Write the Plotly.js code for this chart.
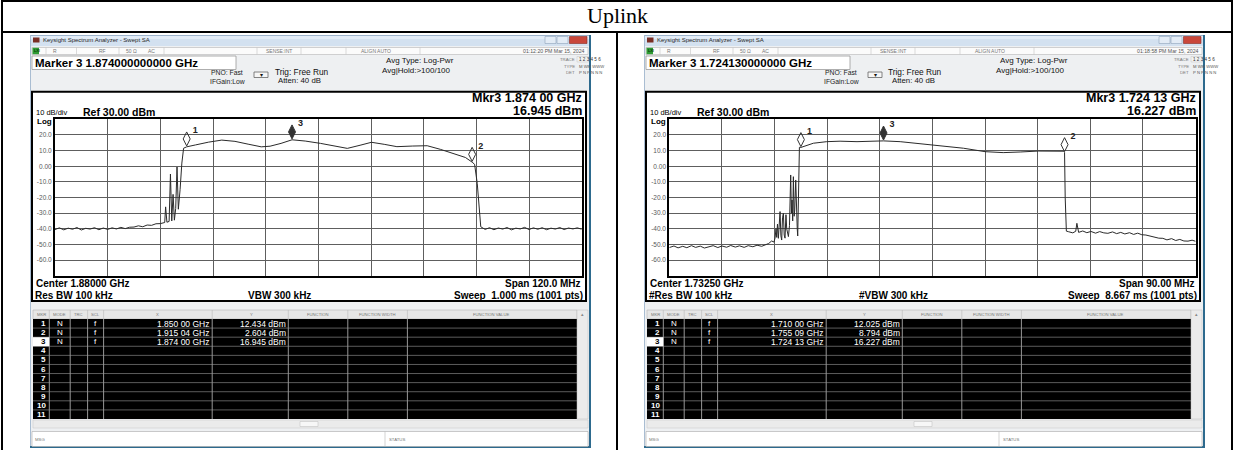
<!DOCTYPE html>
<html><head><meta charset="utf-8">
<script src="https://cdn.plot.ly/plotly-3.0.1.min.js"></script>
<style>html,body{margin:0;padding:0;background:#fff;}#chart{width:1235px;height:450px;}</style>
</head><body><div id="chart"></div>
<script>
// ---------------- data ----------------
const headerTitle = "Uplink";
const refLevel = 30;
const dbPerDiv = 10;
const yTickVals = [20, 10, 0, -10, -20, -30, -40, -50, -60];
const yTickText = ["20.0", "10.0", "0.00", "-10.0", "-20.0", "-30.0", "-40.0", "-50.0", "-60.0"];

const leftCenterGHz = 1.88;
const leftSpanMHz = 120;
const leftFreq = [1.8200,1.8210,1.8220,1.8230,1.8240,1.8250,1.8260,1.8270,1.8280,1.8290,1.8300,1.8310,1.8320,1.8330,1.8340,1.8350,1.8360,1.8370,1.8380,1.8390,1.8400,1.8410,1.8420,1.8430,1.8440,
  1.8445,1.8450,1.8452,1.8455,1.8460,1.8463,1.8466,1.8469,1.8472,1.8475,1.8478,1.8481,1.8485,1.8489,1.8493,1.8500,
  1.8520,1.8550,1.8580,1.8610,1.8640,1.8670,1.8690,1.8715,1.8740,1.8770,1.8805,1.8835,1.8866,1.8895,1.8921,1.8950,1.8979,1.9015,1.9048,1.9078,1.9110,1.9135,1.91504,1.9156,1.9162,1.9166,1.9170,
  1.9180,1.9190,1.9200,1.9210,1.9220,1.9230,1.9240,1.9250,1.9260,1.9270,1.9280,1.9290,1.9300,1.9310,1.9320,1.9330,1.9340,1.9350,1.9360,1.9370,1.9380,1.9390,1.9400];
const leftLevel = [-40.5,-39.4,-40.7,-39.6,-40.3,-39.2,-40.8,-39.7,-40.2,-39.3,-40.6,-39.5,-40.4,-39.4,-40.1,-39.1,-39.9,-39.0,-38.9,-38.1,-38.7,-37.6,-37.8,-36.8,-36.7,
  -36.4,-36.0,-26.0,-35.8,-35.3,-5.0,-35.0,-18.0,-34.5,-27.0,-0.5,-27.5,-15.0,2.0,11.5,12.4,
  13.6,15.4,16.7,15.9,14.1,12.4,12.8,14.6,16.9,16.1,14.6,12.8,11.4,13.4,15.3,14.0,12.5,12.9,13.1,10.8,7.8,5.6,2.6,1.2,-10.9,-28.0,-38.7,
  -40.4,-39.3,-40.6,-39.5,-40.2,-39.2,-40.7,-39.6,-40.1,-39.1,-40.5,-39.4,-40.3,-39.3,-40.6,-39.6,-40.2,-39.2,-40.5,-39.5,-40.1,-39.4,-40.3];
const leftMarkerFreq = [1.850, 1.91504, 1.874];
const leftMarkerLevel = [12.434, 2.604, 16.945];
const leftMarkerXText = ["1.850 00 GHz", "1.915 04 GHz", "1.874 00 GHz"];
const leftMarkerYText = ["12.434 dBm", "2.604 dBm", "16.945 dBm"];

const rightCenterGHz = 1.7325;
const rightSpanMHz = 90;
const rightFreq = [1.6875,1.6883,1.6890,1.6898,1.6905,1.6913,1.6920,1.6928,1.6935,1.6943,1.6950,1.6958,1.6965,1.6973,1.6980,1.6988,1.6995,1.7003,1.7010,1.7018,1.7025,1.7033,1.7040,1.7045,
  1.7050,1.7054,1.70558,1.70575,1.70587,1.70600,1.70615,1.70644,1.70658,1.70672,1.70686,1.70701,1.70715,1.70729,1.70745,1.70758,1.70787,1.70805,1.70826,1.70838,1.70849,1.70860,1.70872,1.70885,1.70895,1.70912,1.70920,1.70929,1.70938,1.70946,1.70975,1.71000,
  1.71214,1.71442,1.7167,1.7196,1.7224,1.72413,1.72698,1.7293,1.7325,1.7338,1.7378,1.7415,1.7446,1.7475,1.7506,1.7549,1.75509,1.7552,1.7554,
  1.7558,1.7565,1.7570,1.7572,1.7575,1.7582,1.7589,1.7596,1.7604,1.7611,1.7618,1.7625,1.7633,1.7640,1.7647,1.7654,1.7662,1.7669,1.7676,1.7683,1.7690,1.7698,1.7705,1.7712,1.7719,1.7726,1.7734,1.7741,1.7748,1.7755,1.7762,1.7769,1.7775];
const rightLevel = [-52.0,-51.0,-52.2,-51.2,-52.1,-50.8,-51.9,-51.1,-52.3,-51.3,-50.8,-52.0,-51.0,-51.8,-50.7,-51.7,-50.9,-51.9,-50.8,-51.5,-50.5,-51.2,-50.2,-49.4,
  -47.8,-48.5,-46.0,-40.0,-45.5,-37.0,-46.1,-29.0,-44.5,-47.2,-33.0,-30.1,-44.0,-46.0,-31.0,-40.0,-45.0,-38.0,-5.6,-30.0,-21.6,-35.0,-6.7,-32.0,-28.0,-8.8,-25.0,-19.5,-40.0,-44.6,12.1,12.0,
  14.7,15.7,16.0,15.7,16.0,16.2,15.7,14.7,13.4,13.0,11.5,9.3,8.7,9.1,9.7,9.6,8.8,-20.0,-41.5,
  -41.9,-42.6,-41.6,-36.5,-42.3,-41.4,-42.5,-41.7,-42.8,-41.8,-42.6,-42.9,-42.0,-43.1,-42.3,-43.3,-42.5,-43.6,-42.8,-43.8,-44.0,-44.7,-45.0,-46.0,-46.1,-47.1,-46.3,-47.5,-46.8,-47.8,-47.9,-47.3,-48.0];
const rightMarkerFreq = [1.710, 1.75509, 1.72413];
const rightMarkerLevel = [12.025, 8.794, 16.227];
const rightMarkerXText = ["1.710 00 GHz", "1.755 09 GHz", "1.724 13 GHz"];
const rightMarkerYText = ["12.025 dBm", "8.794 dBm", "16.227 dBm"];

const markerLabels = ["1", "2", "3"];
const tableRowNumbers = ["1","2","3","4","5","6","7","8","9","10","11"];

// ---------------- helpers ----------------
const W = 1235, H = 450;
const SANS = "Liberation Sans, Arial, sans-serif";
const shapes = [], ann = [];
function R(x0, y0, x1, y1, fill, lc, lw) {
  shapes.push({type: 'rect', xref: 'paper', yref: 'paper', x0: x0 / W, x1: x1 / W, y0: 1 - y1 / H, y1: 1 - y0 / H,
    fillcolor: fill || 'rgba(0,0,0,0)', line: {color: lc || 'rgba(0,0,0,0)', width: lw || 0}, layer: 'below'});
}
function L(x0, y0, x1, y1, c, w) {
  shapes.push({type: 'line', xref: 'paper', yref: 'paper', x0: x0 / W, x1: x1 / W, y0: 1 - y0 / H, y1: 1 - y1 / H,
    line: {color: c, width: w}, layer: 'below'});
}
function T(x, y, text, size, o) {
  o = o || {};
  ann.push({xref: 'paper', yref: 'paper', x: x / W, y: 1 - y / H, text: text, showarrow: false,
    xanchor: o.a || 'left', yanchor: 'middle', borderpad: 0,
    font: {family: o.f || SANS, size: size, color: o.c || '#000', weight: o.b ? 700 : 400}});
}

// ---------------- outer table ----------------
L(2, 1, 1233, 1, '#000', 2);
L(2, 0, 2, 450, '#000', 2);
L(1232, 0, 1232, 450, '#000', 2);
L(2, 32, 1233, 32, '#000', 2);
L(617, 32, 617, 450, '#000', 2);
T(617, 15.5, headerTitle, 22, {a: 'center', f: 'Liberation Serif, Times New Roman, serif'});

// ---------------- one analyzer window ----------------
function drawWindow(dx, w) {
  R(30 + dx, 35, 591 + dx, 448, '#eef0f2');
  R(30 + dx, 35, 591 + dx, 46, '#d3e1f0');
  R(30 + dx, 35, 591 + dx, 39, '#e2ecf7');
  L(30 + dx, 35.5, 591 + dx, 35.5, '#9db3cb', 1);
  L(30.5 + dx, 35, 30.5 + dx, 448, '#a9bdd2', 1);
  L(590 + dx, 35, 590 + dx, 448, '#2d6a8e', 2);
  L(30 + dx, 447, 591 + dx, 447, '#2d6a8e', 2);
  R(33 + dx, 37.5, 39.5 + dx, 42.5, '#7a2e25');
  T(42 + dx, 40.5, 'Keysight Spectrum Analyzer - Swept SA', 6, {c: '#2a2a2a'});
  R(545 + dx, 36.5, 556 + dx, 43.5, '#e3ecf6', '#8ea3ba', 0.6);
  R(557 + dx, 36.5, 568 + dx, 43.5, '#e3ecf6', '#8ea3ba', 0.6);
  R(569.5 + dx, 36.5, 587 + dx, 43.5, '#c9473b', '#8a2a22', 0.6);

  // status row
  R(32 + dx, 47.5, 588 + dx, 54.5, '#fbfbfb', '#b5b5b5', 0.6);
  R(32.5 + dx, 47.8, 39 + dx, 54.2, '#2e9b35');
  T(33 + dx, 51, 'LXI', 3.8, {c: '#0b3d0b', b: true});
  [46, 76.5, 119, 164, 257, 301, 346, 420].forEach(function (x) { L(x + dx, 47.5, x + dx, 54.5, '#c4c4c4', 0.6); });
  T(52 + dx, 51, 'R', 5, {c: '#777'});
  T(98 + dx, 51, 'RF', 5, {c: '#777'});
  T(125 + dx, 51, '50 Ω', 5, {c: '#777'});
  T(147 + dx, 51, 'AC', 5, {c: '#777'});
  T(279 + dx, 51, 'SENSE:INT', 5, {c: '#777', a: 'center'});
  T(376 + dx, 51, 'ALIGN AUTO', 5, {c: '#777', a: 'center'});
  T(586 + dx, 51, w.time, 5.2, {c: '#555', a: 'right'});

  // marker readout box
  R(32 + dx, 56, 236 + dx, 69.5, '#ffffff', '#9a9a9a', 0.8);
  T(34 + dx, 63, w.marker, 11.5, {b: true});
  T(227 + dx, 72.7, 'PNO: Fast', 6.8, {a: 'center', c: '#222'});
  T(227 + dx, 81.7, 'IFGain:Low', 6.8, {a: 'center', c: '#222'});
  R(254 + dx, 72, 268 + dx, 77.5, '#f6f6f6', '#666', 0.8);
  T(261 + dx, 75, '▾', 6, {a: 'center', c: '#111'});
  T(273.5 + dx, 71.7, 'Trig: Free Run', 8.3, {c: '#111'});
  T(277 + dx, 81, 'Atten: 40 dB', 7.8, {c: '#111'});
  T(385 + dx, 61, 'Avg Type: Log-Pwr', 8, {c: '#111'});
  T(381 + dx, 70, 'Avg|Hold:&gt;100/100', 8, {c: '#111'});
  T(576 + dx, 59.3, 'TRACE', 4.3, {a: 'right', c: '#777'});
  T(576 + dx, 66, 'TYPE', 4.3, {a: 'right', c: '#777'});
  T(576 + dx, 72.7, 'DET', 4.3, {a: 'right', c: '#777'});
  R(577 + dx, 56.5, 588.5 + dx, 62, '#f2f2f2', '#bbb', 0.4);
  T(577.5 + dx, 59.3, '1 2 3 4 5 6', 4.6, {c: '#333'});
  T(577.5 + dx, 66, 'M WM WWW', 4.2, {c: '#555'});
  T(577.5 + dx, 72.7, 'P N P N N N', 4.2, {c: '#555'});

  // measurement frame
  R(32 + dx, 91.7, 586 + dx, 301, '#ffffff', '#000', 2);
  T(583 + dx, 97.5, w.mkrFreq, 12.5, {a: 'right', b: true});
  T(583 + dx, 111, w.mkrLevel, 12.5, {a: 'right', b: true});
  T(34.5 + dx, 112.5, '10 dB/div', 7.5);
  T(81.5 + dx, 112, 'Ref 30.00 dBm', 10.5, {b: true});
  T(35.5 + dx, 121.5, 'Log', 8, {b: true});
  T(34.5 + dx, 283.5, w.center, 10, {b: true});
  T(582 + dx, 283.5, w.span, 10, {a: 'right', b: true});
  T(34 + dx, 295, w.rbw, 10, {b: true});
  T(279 + dx, 295, w.vbw, 10, {a: 'center', b: true});
  T(584 + dx, 295, w.sweep, 10, {a: 'right', b: true});

  // marker table
  const cols = [49.3, 70.2, 87.6, 103.6, 212.2, 288.3, 347.8, 407.4];
  R(33 + dx, 310, 577 + dx, 319, '#e6e6e6', '#a8a8a8', 0.5);
  R(33 + dx, 319, 577 + dx, 419, '#000000');
  cols.forEach(function (x) {
    L(x + dx, 310, x + dx, 319, '#b0b0b0', 0.5);
    L(x + dx, 319, x + dx, 419, '#d8d8d8', 0.7);
  });
  const rowH = 100 / 11;
  for (let k = 1; k < 11; k++) L(33 + dx, 319 + k * rowH, 577 + dx, 319 + k * rowH, '#9a9a9a', 0.6);
  R(33 + dx, 319 + 2 * rowH, 49.3 + dx, 319 + 3 * rowH, '#ffffff');
  const hy = 314.5, hc = '#777';
  T(41 + dx, hy, 'MKR', 4.2, {a: 'center', c: hc});
  T(59.7 + dx, hy, 'MODE', 4.2, {a: 'center', c: hc});
  T(78.9 + dx, hy, 'TRC', 4.2, {a: 'center', c: hc});
  T(95.6 + dx, hy, 'SCL', 4.2, {a: 'center', c: hc});
  T(157 + dx, hy, 'X', 4.2, {a: 'center', c: hc});
  T(251 + dx, hy, 'Y', 4.2, {a: 'center', c: hc});
  T(318 + dx, hy, 'FUNCTION', 4.2, {a: 'center', c: hc});
  T(377.6 + dx, hy, 'FUNCTION WIDTH', 4.2, {a: 'center', c: hc});
  T(491 + dx, hy, 'FUNCTION VALUE', 4.2, {a: 'center', c: hc});
  tableRowNumbers.forEach(function (n, i) {
    const y = 319 + (i + 0.5) * rowH;
    T(47 + dx, y, n, 8, {a: 'right', b: true, c: i === 2 ? '#000' : '#fff'});
  });
  w.rows.forEach(function (r, i) {
    const y = 319 + (i + 0.5) * rowH;
    T(59.7 + dx, y, 'N', 8, {a: 'center', c: '#fff'});
    T(95.6 + dx, y, 'f', 8, {a: 'center', c: '#fff'});
    T(210 + dx, y, r[0], 8.5, {a: 'right', c: '#fff'});
    T(286.5 + dx, y, r[1], 8.5, {a: 'right', c: '#fff'});
  });
  R(577 + dx, 310, 588 + dx, 419, '#ebebeb', '#bdbdbd', 0.5);
  T(582.5 + dx, 314, '▴', 5, {a: 'center', c: '#888'});
  R(33 + dx, 420, 588 + dx, 428, '#ebebeb', '#c4c4c4', 0.5);
  R(300 + dx, 421.5, 318 + dx, 426.5, '#f7f7f7', '#bbb', 0.5);
  R(32 + dx, 431.5, 588 + dx, 446.5, '#ffffff', '#a8a8a8', 0.6);
  L(385 + dx, 431.5, 385 + dx, 446.5, '#b5b5b5', 0.6);
  T(34 + dx, 439, 'MSG', 4.3, {c: '#777'});
  T(388 + dx, 439, 'STATUS', 4.3, {c: '#777'});
}

drawWindow(0, {
  time: '01:12:20 PM Mar 15, 2024', marker: 'Marker 3 1.874000000000 GHz',
  mkrFreq: 'Mkr3 1.874 00 GHz', mkrLevel: '16.945 dBm',
  center: 'Center 1.88000 GHz', span: 'Span 120.0 MHz', rbw: 'Res BW 100 kHz', vbw: 'VBW 300 kHz',
  sweep: 'Sweep  1.000 ms (1001 pts)',
  rows: leftMarkerXText.map(function (t, i) { return [t, leftMarkerYText[i]]; })
});
drawWindow(614, {
  time: '01:18:58 PM Mar 15, 2024', marker: 'Marker 3 1.724130000000 GHz',
  mkrFreq: 'Mkr3 1.724 13 GHz', mkrLevel: '16.227 dBm',
  center: 'Center 1.73250 GHz', span: 'Span 90.00 MHz', rbw: '#Res BW 100 kHz', vbw: '#VBW 300 kHz',
  sweep: 'Sweep  8.667 ms (1001 pts)',
  rows: rightMarkerXText.map(function (t, i) { return [t, rightMarkerYText[i]]; })
});

// ---------------- axes ----------------
const yLo = refLevel - 10 * dbPerDiv, yHi = refLevel;
const markerLift = 5, labelLift = 10;
function xAxis(center, spanMHz, d0, d1, anchor) {
  const span = spanMHz / 1000;
  return {domain: [d0 / W, d1 / W], range: [center - span / 2, center + span / 2], anchor: anchor,
    tick0: center - span / 2, dtick: span / 10, showgrid: true, gridcolor: '#5e5e5e', gridwidth: 1,
    showticklabels: false, ticks: '', zeroline: false, showline: true, linecolor: '#000', linewidth: 2, mirror: true, fixedrange: true};
}
function yAxis(anchor) {
  return {domain: [1 - 275.7 / H, 1 - 119.3 / H], range: [yLo, yHi], anchor: anchor,
    tickmode: 'array', tickvals: yTickVals, ticktext: yTickText, ticks: '',
    tickfont: {family: SANS, size: 6.5, color: '#5a5a5a'},
    showgrid: true, gridcolor: '#5e5e5e', gridwidth: 1, zeroline: false,
    showline: true, linecolor: '#000', linewidth: 2, mirror: true, fixedrange: true};
}
function liftAxis(over, anchor, lift) {
  return {overlaying: over, anchor: anchor, range: [yLo - lift, yHi - lift], visible: false, fixedrange: true};
}

const lineStyle = {color: '#2a2a2a', width: 1};
function markerTrace(fx, lv, xa, ya) {
  return {x: fx, y: lv, xaxis: xa, yaxis: ya, type: 'scatter', mode: 'markers',
    marker: {symbol: ['diamond-tall-open', 'diamond-tall-open', 'diamond-tall'], size: 10, color: '#333',
      line: {color: '#333', width: 1}}, cliponaxis: false, hoverinfo: 'skip'};
}
function labelTrace(fx, lv, xa, ya) {
  return {x: fx, y: lv, xaxis: xa, yaxis: ya, type: 'scatter', mode: 'markers+text', text: markerLabels,
    textposition: 'middle right', textfont: {family: SANS, size: 9, color: '#222', weight: 700},
    marker: {size: 8, opacity: 0, color: '#fff'},
    cliponaxis: false, hoverinfo: 'skip'};
}

const data = [
  {x: leftFreq, y: leftLevel, xaxis: 'x', yaxis: 'y', type: 'scatter', mode: 'lines', line: lineStyle, hoverinfo: 'skip'},
  {x: rightFreq, y: rightLevel, xaxis: 'x2', yaxis: 'y2', type: 'scatter', mode: 'lines', line: lineStyle, hoverinfo: 'skip'},
  markerTrace(leftMarkerFreq, leftMarkerLevel, 'x', 'y3'),
  markerTrace(rightMarkerFreq, rightMarkerLevel, 'x2', 'y4'),
  labelTrace(leftMarkerFreq, leftMarkerLevel, 'x', 'y5'),
  labelTrace(rightMarkerFreq, rightMarkerLevel, 'x2', 'y6')
];

const layout = {
  width: W, height: H, margin: {l: 0, r: 0, t: 0, b: 0, pad: 0},
  paper_bgcolor: '#ffffff', plot_bgcolor: 'rgba(0,0,0,0)', showlegend: false,
  xaxis: xAxis(leftCenterGHz, leftSpanMHz, 55, 581.7, 'y'),
  yaxis: yAxis('x'),
  xaxis2: xAxis(rightCenterGHz, rightSpanMHz, 669.3, 1195.6, 'y2'),
  yaxis2: yAxis('x2'),
  yaxis3: liftAxis('y', 'x', markerLift),
  yaxis4: liftAxis('y2', 'x2', markerLift),
  yaxis5: liftAxis('y', 'x', labelLift),
  yaxis6: liftAxis('y2', 'x2', labelLift),
  shapes: shapes, annotations: ann
};

Plotly.newPlot('chart', data, layout, {staticPlot: true, displayModeBar: false});
</script>
</body></html>
